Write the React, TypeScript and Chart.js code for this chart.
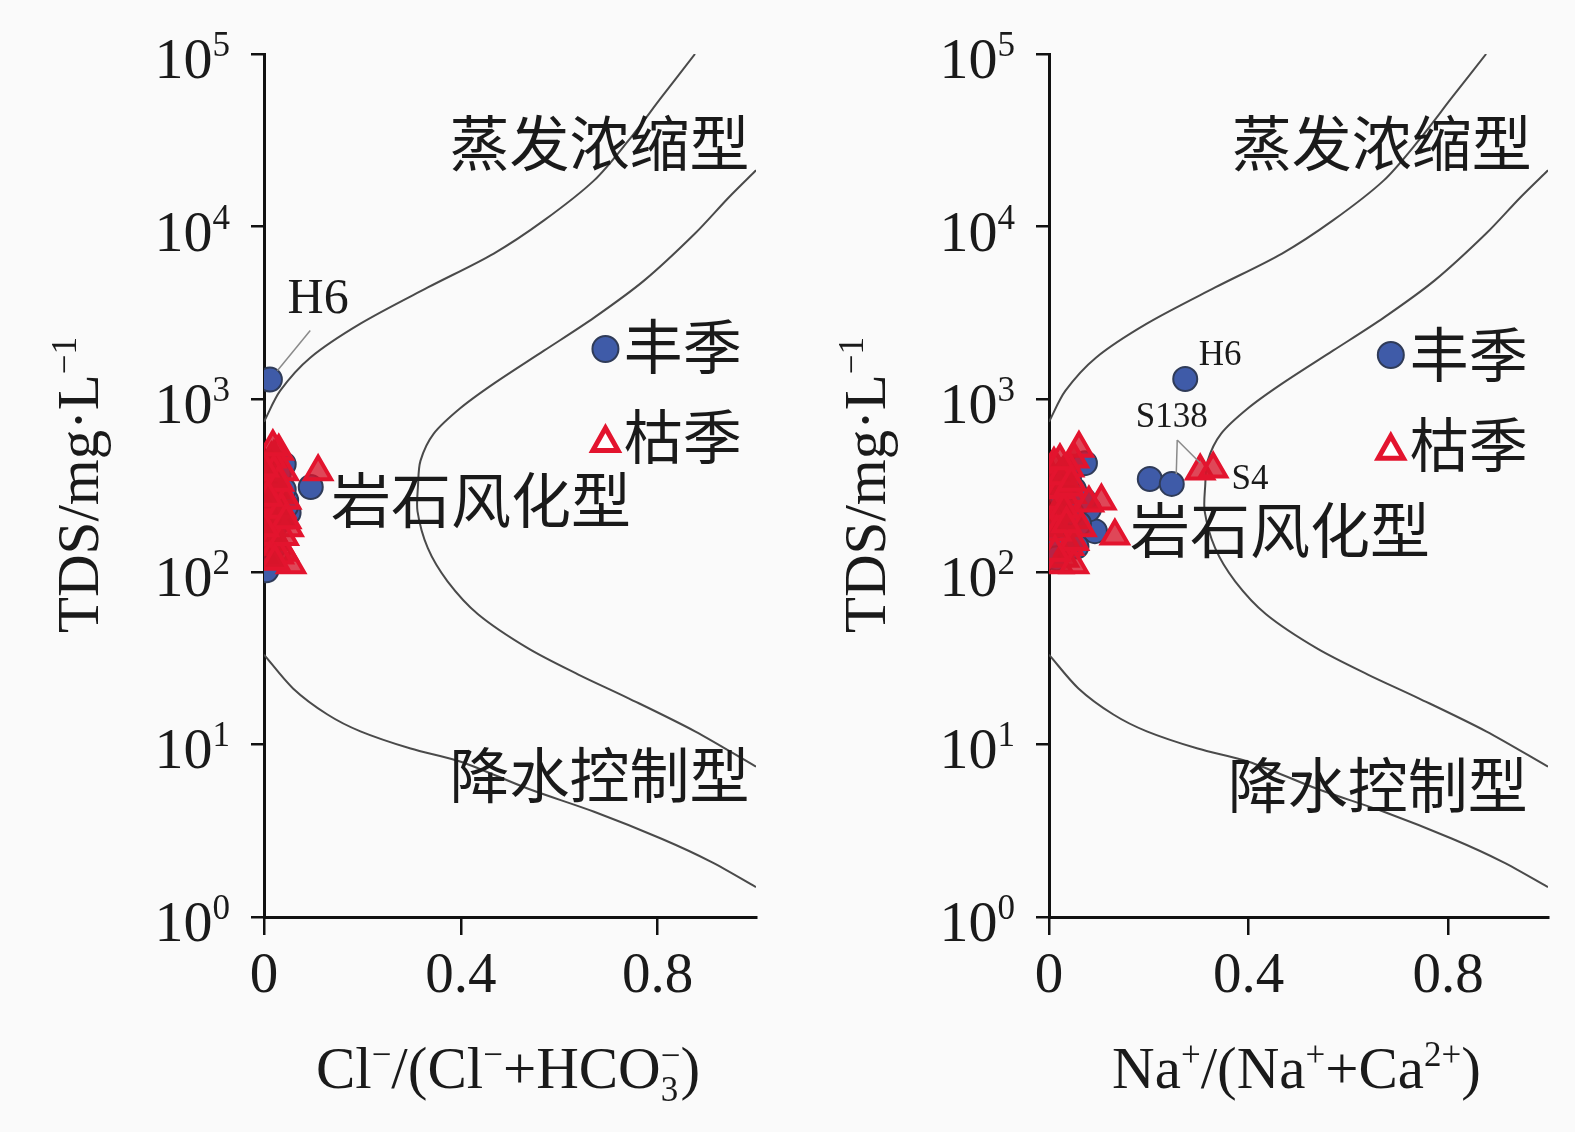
import React, { useEffect, useRef } from 'react';
import { Chart, registerables } from 'chart.js';
Chart.register(...registerables);

// ---------- boundary curves (Gibbs diagram) ----------
const curveUpperX = [0, 0.033, 0.094, 0.196, 0.333, 0.467, 0.569, 0.671, 0.741, 0.808, 0.876];
const curveUpperTDS = [740, 1120, 1740, 2740, 4440, 6980, 10860, 18530, 31600, 56200, 100000];
const curveMidX = [1.0, 0.945, 0.876, 0.773, 0.671, 0.569, 0.467, 0.4, 0.345, 0.318, 0.313, 0.312, 0.333, 0.373, 0.435, 0.537, 0.639, 0.741, 0.876, 1.0];
const curveMidTDS = [21200, 14800, 9120, 4880, 2970, 1910, 1230, 891, 631, 439, 314, 224, 137, 88.1, 56.8, 36.0, 25.4, 18.5, 11.9, 7.43];
const curveLowerX = [0, 0.059, 0.129, 0.196, 0.298, 0.4, 0.537, 0.671, 0.808, 0.91, 1.0];
const curveLowerTDS = [33.1, 21.1, 14.9, 11.9, 9.46, 7.94, 5.53, 4.07, 2.84, 2.08, 1.49];

// ---------- Cl-/(Cl- + HCO3-) panel ----------
const clWetX = [0.012, 0.095, 0.005, 0.04, 0.045, 0.03, 0.02, 0.01, 0.035, 0.025, 0.015, 0.05, 0.008, 0.03, 0.04, 0.02, 0.012, 0.045];
const clWetTDS = [1300, 310, 102, 420, 260, 330, 280, 230, 210, 190, 250, 220, 160, 370, 300, 140, 350, 240];
const clDryX = [0.11, 0.055, 0.03, 0.02, 0.01, 0.04, 0.005, 0.015, 0.025, 0.035, 0.045, 0.02, 0.01, 0.03, 0.05, 0.015, 0.025, 0.005, 0.04, 0.03, 0.02, 0.01,
  0.0, 0.005, 0.01, 0.015, 0.02, 0.025, 0.03, 0.035, 0.04, 0.045, 0.0, 0.0, 0.012, 0.022, 0.008, 0.018];
const clDryTDS = [380, 110, 500, 460, 420, 380, 350, 320, 300, 280, 260, 240, 220, 200, 180, 170, 150, 140, 130, 125, 160, 190,
  300, 250, 350, 450, 380, 200, 330, 230, 160, 200, 180, 400, 120, 115, 270, 530];

// ---------- Na+/(Na+ + Ca2+) panel ----------
const naWetX = [0.273, 0.202, 0.246, 0.092, 0.072, 0.08, 0.05, 0.03, 0.02, 0.01, 0.04, 0.06, 0.015, 0.025, 0.07, 0.035, 0.045, 0.005, 0.055];
const naWetTDS = [1310, 345, 323, 172, 426, 230, 300, 260, 200, 150, 350, 190, 120, 280, 260, 380, 220, 180, 140];
const naDryX = [0.303, 0.329, 0.132, 0.06, 0.05, 0.04, 0.03, 0.02, 0.01, 0.005, 0.045, 0.035, 0.025, 0.015, 0.055, 0.065, 0.105, 0.04, 0.03, 0.02, 0.01, 0.08, 0.05,
  0.0, 0.0, 0.0, 0.01, 0.02, 0.03, 0.04, 0.05, 0.015, 0.025, 0.035, 0.012, 0.022, 0.045];
const naDryTDS = [384, 394, 161, 520, 450, 400, 380, 350, 320, 300, 280, 260, 240, 220, 200, 180, 257, 140, 120, 110, 200, 250, 110,
  180, 260, 380, 420, 300, 230, 310, 150, 170, 360, 190, 130, 440, 330];

// ---------- ticks ----------
const xTicks = [0, 0.4, 0.8];
const yTicks = [1, 10, 100, 1000, 10000, 100000];

const seasonNames = ['丰季', '枯季'];
const regionNames = ['蒸发浓缩型', '岩石风化型', '降水控制型'];

type Seg = { t: string; k?: 'sup' | 'sub'; t2?: string };

const SERIF = '"Liberation Serif", "Times New Roman", serif';
const CJK = '"Noto Sans CJK SC", sans-serif';
const INK = '#1a1a1a';

const circleStyle = { bg: '#3f5ba8', border: '#2f3b58', radius: 12, bw: 2 };
const triStyle = { bg: 'rgba(215,20,42,0.78)', border: '#e3142e', radius: 15, bw: 4 };

function segFont(size: number, small: boolean) {
  return `${small ? Math.round(size * 0.6) : size}px ${SERIF}`;
}

function drawRich(ctx: CanvasRenderingContext2D, segs: Seg[], x: number, y: number, size: number, align: 'left' | 'center' | 'right') {
  ctx.save();
  ctx.textBaseline = 'alphabetic';
  ctx.textAlign = 'left';
  const widths = segs.map((s) => {
    if (s.t2 !== undefined) {
      ctx.font = segFont(size, true);
      return Math.max(ctx.measureText(s.t).width, ctx.measureText(s.t2).width);
    }
    ctx.font = segFont(size, !!s.k);
    return ctx.measureText(s.t).width;
  });
  const total = widths.reduce((a, b) => a + b, 0);
  let cx = align === 'left' ? x : align === 'center' ? x - total / 2 : x - total;
  segs.forEach((s, i) => {
    if (s.t2 !== undefined) {
      ctx.font = segFont(size, true);
      ctx.fillText(s.t, cx, y + size * 0.22);
      ctx.fillText(s.t2, cx, y - size * 0.36);
    } else if (s.k === 'sup') {
      ctx.font = segFont(size, true);
      ctx.fillText(s.t, cx, y - size * 0.38);
    } else if (s.k === 'sub') {
      ctx.font = segFont(size, true);
      ctx.fillText(s.t, cx, y + size * 0.22);
    } else {
      ctx.font = segFont(size, false);
      ctx.fillText(s.t, cx, y);
    }
    cx += widths[i];
  });
  ctx.restore();
}

type TextAnn = { text: string; x: number; tds: number; size: number; font: string; align: 'left' | 'center' };
type Leader = { x1: number; y1: number; x2: number; y2: number };

type Panel = {
  left: number;
  width: number;
  areaLeft: number;
  padRight: number;
  wetX: number[];
  wetTDS: number[];
  dryX: number[];
  dryTDS: number[];
  xTitle: Seg[];
  texts: TextAnn[];
  leaders: Leader[];
  legendX: number;
  legendTDS: number[];
};

const panels: Panel[] = [
  {
    left: 0,
    width: 787,
    areaLeft: 264,
    padRight: 31,
    wetX: clWetX,
    wetTDS: clWetTDS,
    dryX: clDryX,
    dryTDS: clDryTDS,
    xTitle: [{ t: 'Cl' }, { t: '−', k: 'sup' }, { t: '/(Cl' }, { t: '−', k: 'sup' }, { t: '+HCO' }, { t: '3', t2: '−' }, { t: ')' }],
    texts: [
      { text: regionNames[0], x: 0.682, tds: 30500, size: 60, font: CJK, align: 'center' },
      { text: regionNames[1], x: 0.441, tds: 261, size: 60, font: CJK, align: 'center' },
      { text: regionNames[2], x: 0.682, tds: 6.65, size: 60, font: CJK, align: 'center' },
      { text: seasonNames[0], x: 0.731, tds: 2005, size: 59, font: CJK, align: 'left' },
      { text: seasonNames[1], x: 0.731, tds: 604, size: 59, font: CJK, align: 'left' },
      { text: 'H6', x: 0.11, tds: 3757, size: 50, font: SERIF, align: 'center' },
    ],
    leaders: [{ x1: 0.094, y1: 2500, x2: 0.027, y2: 1460 }],
    legendX: 0.694,
    legendTDS: [1954, 565],
  },
  {
    left: 787,
    width: 788,
    areaLeft: 262,
    padRight: 27,
    wetX: naWetX,
    wetTDS: naWetTDS,
    dryX: naDryX,
    dryTDS: naDryTDS,
    xTitle: [{ t: 'Na' }, { t: '+', k: 'sup' }, { t: '/(Na' }, { t: '+', k: 'sup' }, { t: '+Ca' }, { t: '2+', k: 'sup' }, { t: ')' }],
    texts: [
      { text: regionNames[0], x: 0.667, tds: 30500, size: 60, font: CJK, align: 'center' },
      { text: regionNames[1], x: 0.463, tds: 175, size: 60, font: CJK, align: 'center' },
      { text: regionNames[2], x: 0.659, tds: 5.82, size: 60, font: CJK, align: 'center' },
      { text: seasonNames[0], x: 0.723, tds: 1803, size: 59, font: CJK, align: 'left' },
      { text: seasonNames[1], x: 0.723, tds: 543, size: 59, font: CJK, align: 'left' },
      { text: 'H6', x: 0.343, tds: 1786, size: 35, font: SERIF, align: 'center' },
      { text: 'S138', x: 0.246, tds: 778, size: 35, font: SERIF, align: 'center' },
      { text: 'S4', x: 0.403, tds: 340, size: 35, font: SERIF, align: 'center' },
    ],
    leaders: [
      { x1: 0.257, y1: 580, x2: 0.255, y2: 369 },
      { x1: 0.257, y1: 580, x2: 0.303, y2: 427 },
    ],
    legendX: 0.685,
    legendTDS: [1803, 508],
  },
];

const supDigits = ['0', '1', '2', '3', '4', '5'];

function makeDecor(p: Panel) {
  return {
    id: 'decor',
    afterDraw(chart: any) {
      const ctx: CanvasRenderingContext2D = chart.ctx;
      const xs = chart.scales.x;
      const ys = chart.scales.y;
      const area = chart.chartArea;
      ctx.save();
      ctx.fillStyle = INK;
      // y tick labels 10^n
      yTicks.forEach((v, i) => {
        const py = ys.getPixelForValue(v);
        drawRich(ctx, [{ t: '10' }, { t: supDigits[i], k: 'sup' }], area.left - 34, py + 24, 58, 'right');
      });
      // x title
      drawRich(ctx, p.xTitle, (area.left + area.right) / 2 - 2, 1088, 59, 'center');
      // y title (rotated)
      ctx.save();
      ctx.translate(98, 485);
      ctx.rotate(-Math.PI / 2);
      drawRich(ctx, [{ t: 'TDS/mg·L' }, { t: '−1', k: 'sup' }], 0, 0, 59, 'center');
      ctx.restore();
      // leader lines
      ctx.strokeStyle = '#8a8a8a';
      ctx.lineWidth = 1.5;
      p.leaders.forEach((l) => {
        ctx.beginPath();
        ctx.moveTo(xs.getPixelForValue(l.x1), ys.getPixelForValue(l.y1));
        ctx.lineTo(xs.getPixelForValue(l.x2), ys.getPixelForValue(l.y2));
        ctx.stroke();
      });
      // texts
      p.texts.forEach((t) => {
        ctx.font = `${t.size}px ${t.font}`;
        ctx.textAlign = t.align;
        ctx.textBaseline = 'middle';
        ctx.fillStyle = INK;
        ctx.fillText(t.text, xs.getPixelForValue(t.x), ys.getPixelForValue(t.tds));
      });
      // legend markers
      const lx = xs.getPixelForValue(p.legendX);
      const cy = ys.getPixelForValue(p.legendTDS[0]);
      ctx.beginPath();
      ctx.arc(lx, cy, circleStyle.radius + 1, 0, Math.PI * 2);
      ctx.fillStyle = circleStyle.bg;
      ctx.fill();
      ctx.lineWidth = circleStyle.bw;
      ctx.strokeStyle = circleStyle.border;
      ctx.stroke();
      const ty = ys.getPixelForValue(p.legendTDS[1]);
      const r = 14;
      ctx.beginPath();
      ctx.moveTo(lx, ty - r);
      ctx.lineTo(lx + r * 0.9, ty + r * 0.6);
      ctx.lineTo(lx - r * 0.9, ty + r * 0.6);
      ctx.closePath();
      ctx.fillStyle = '#ffffff';
      ctx.fill();
      ctx.lineWidth = 5;
      ctx.strokeStyle = triStyle.border;
      ctx.lineJoin = 'miter';
      ctx.stroke();
      ctx.restore();
    },
  };
}

function toPts(xs: number[], ys: number[]) {
  return xs.map((x, i) => ({ x, y: ys[i] }));
}

function PanelChart({ p }: { p: Panel }) {
  const ref = useRef<HTMLCanvasElement | null>(null);
  useEffect(() => {
    if (!ref.current) return;
    const curveDs = (xs: number[], ys: number[]) => ({
      data: toPts(xs, ys),
      showLine: true,
      borderColor: '#4a4a4a',
      borderWidth: 2,
      pointRadius: 0,
      tension: 0.3,
      fill: false,
      order: 3,
    });
    const axisGrid = (tl: number) => ({
      display: true,
      drawOnChartArea: false,
      drawTicks: true,
      tickLength: tl,
      color: '#111',
      lineWidth: 2.5,
    });
    const chart = new Chart(ref.current, {
      type: 'scatter',
      data: {
        datasets: [
          curveDs(curveUpperX, curveUpperTDS),
          curveDs(curveMidX, curveMidTDS),
          curveDs(curveLowerX, curveLowerTDS),
          {
            label: seasonNames[0],
            data: toPts(p.wetX, p.wetTDS),
            pointStyle: 'circle',
            pointRadius: circleStyle.radius,
            backgroundColor: circleStyle.bg,
            borderColor: circleStyle.border,
            borderWidth: circleStyle.bw,
            order: 2,
          },
          {
            label: seasonNames[1],
            data: toPts(p.dryX, p.dryTDS),
            pointStyle: 'triangle',
            pointRadius: triStyle.radius,
            backgroundColor: triStyle.bg,
            borderColor: triStyle.border,
            borderWidth: triStyle.bw,
            order: 1,
          },
        ] as any,
      },
      options: {
        animation: false,
        responsive: false,
        devicePixelRatio: 1,
        layout: { padding: { left: 0, top: 54, right: p.padRight, bottom: 0 } },
        plugins: { legend: { display: false }, tooltip: { enabled: false } },
        scales: {
          x: {
            type: 'linear',
            min: 0,
            max: 1,
            afterBuildTicks: (s: any) => {
              s.ticks = xTicks.map((v) => ({ value: v }));
            },
            afterFit: (s: any) => {
              s.height = 1132 - 917;
            },
            grid: axisGrid(18) as any,
            border: { display: true, color: '#111', width: 3 },
            ticks: {
              autoSkip: false,
              maxRotation: 0,
              padding: 8,
              color: INK,
              font: { family: SERIF, size: 57 },
              callback: (v: any) => String(v),
            },
          },
          y: {
            type: 'logarithmic',
            min: 1,
            max: 100000,
            afterBuildTicks: (s: any) => {
              s.ticks = yTicks.map((v) => ({ value: v }));
            },
            afterFit: (s: any) => {
              s.width = p.areaLeft;
            },
            grid: axisGrid(13) as any,
            border: { display: true, color: '#111', width: 3 },
            ticks: { display: false },
          },
        },
      } as any,
      plugins: [makeDecor(p) as any],
    });
    return () => chart.destroy();
  }, [p]);
  return (
    <canvas
      ref={ref}
      width={p.width}
      height={1132}
      style={{ position: 'absolute', left: p.left, top: 0, width: p.width, height: 1132 }}
    />
  );
}

export default function App() {
  return (
    <div style={{ position: 'absolute', left: 0, top: 0, width: 1575, height: 1132, background: '#fafafa', overflow: 'hidden' }}>
      {panels.map((p, i) => (
        <PanelChart key={i} p={p} />
      ))}
    </div>
  );
}
